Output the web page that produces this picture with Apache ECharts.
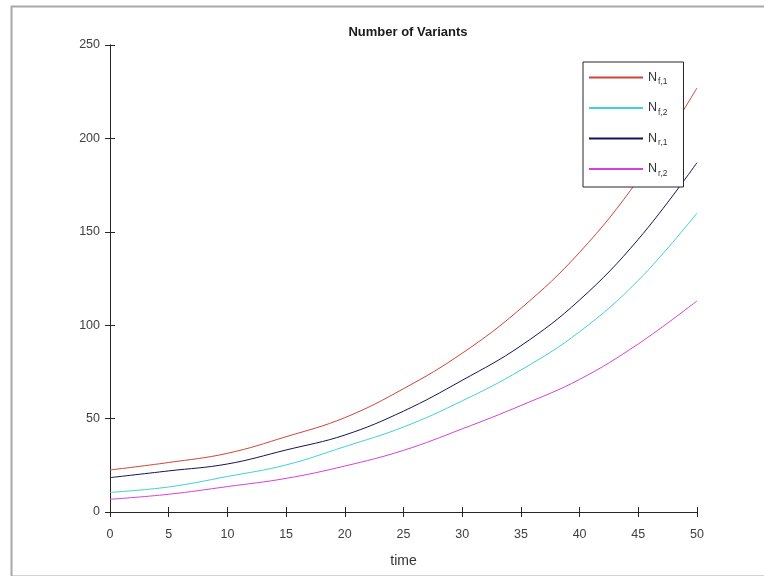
<!DOCTYPE html>
<html>
<head>
<meta charset="utf-8">
<script src="https://cdn.jsdelivr.net/npm/echarts@6/dist/echarts.min.js"></script>
<style>html,body{margin:0;padding:0;background:#fff;}#c{width:764px;height:576px;}</style>
</head>
<body>
<div id="c"></div>
<script>
const times = [0, 5, 10, 15, 20, 25, 30, 35, 40, 45, 50];
const nf1 = [22.5, 26.5, 31.4, 40.3, 50.5, 66, 85, 109, 139, 178, 227];
const nf2 = [10.5, 13.4, 19.0, 25.2, 35, 45.5, 59.5, 76, 96.5, 124, 160];
const nr1 = [18.4, 22, 25.7, 33.2, 41.2, 54, 70.5, 89, 113.5, 146, 187];
const nr2 = [6.8, 9.5, 13.6, 18, 24.6, 33, 44.5, 57, 71, 90, 113];
const seriesNames = ['N{s|f,1}', 'N{s|f,2}', 'N{s|r,1}', 'N{s|r,2}'];
const colors = ['#d0453a', '#3fd2d2', '#141452', '#d642d6'];
const xTicks = { min: 0, max: 50, interval: 5 };
const yTicks = { min: 0, max: 250, interval: 50 };

const allData = [nf1, nf2, nr1, nr2];
const font = "'Liberation Sans', Arial, sans-serif";
const chart = echarts.init(document.getElementById('c'), null, { renderer: 'canvas' });
const axisCommon = {
  type: 'value',
  axisLine: { show: true, lineStyle: { color: '#262626', width: 1 } },
  axisTick: { show: true, inside: true, length: 5, lineStyle: { color: '#262626' } },
  splitLine: { show: false },
  axisLabel: { color: '#404040', fontSize: 12.5, fontFamily: font }
};
chart.setOption({
  animation: false,
  backgroundColor: '#fff',
  color: colors,
  title: {
    text: 'Number of Variants', left: 403, top: 21, textAlign: 'center',
    textStyle: { fontSize: 13, fontWeight: 'bold', color: '#1a1a1a', fontFamily: font }
  },
  grid: { left: 110, top: 45, right: 67, bottom: 64 },
  legend: {
    orient: 'vertical', left: 583, top: 62,
    data: seriesNames,
    itemWidth: 54, itemHeight: 14, itemGap: 15,
    padding: [9, 16, 9, 5],
    borderColor: '#262626', borderWidth: 1, backgroundColor: '#fff',
    itemStyle: { opacity: 0, borderWidth: 0 },
    textStyle: {
      fontSize: 12.5, color: '#333', fontFamily: font,
      rich: { s: { fontSize: 8.5, color: '#333', fontFamily: font, padding: [9, 0, 0, 1] } }
    }
  },
  xAxis: [
    Object.assign({}, axisCommon, {
      min: xTicks.min, max: xTicks.max, interval: xTicks.interval,
      name: 'time', nameLocation: 'middle', nameGap: 42,
      nameTextStyle: { fontSize: 14, color: '#333', fontFamily: font },
      axisLabel: Object.assign({}, axisCommon.axisLabel, { margin: 16 })
    }),
    Object.assign({}, axisCommon, {
      position: 'top', min: xTicks.min, max: xTicks.max, interval: xTicks.interval,
      axisLabel: { show: false }
    })
  ],
  yAxis: [
    Object.assign({}, axisCommon, {
      min: yTicks.min, max: yTicks.max, interval: yTicks.interval,
      axisLabel: Object.assign({}, axisCommon.axisLabel, { margin: 10 })
    }),
    Object.assign({}, axisCommon, {
      position: 'right', min: yTicks.min, max: yTicks.max, interval: yTicks.interval,
      axisLabel: { show: false }
    })
  ],
  graphic: [{
    type: 'rect', left: 9, top: 4, silent: true, z: -1,
    shape: { width: 780, height: 570 },
    style: { fill: 'none', stroke: '#a8a8a8', lineWidth: 2 }
  }],
  series: allData.map((d, i) => ({
    name: seriesNames[i], type: 'line', smooth: 0.4, symbol: 'none',
    lineStyle: { width: 1, color: colors[i] },
    data: times.map((t, k) => [t, d[k]])
  }))
});
</script>
</body>
</html>
